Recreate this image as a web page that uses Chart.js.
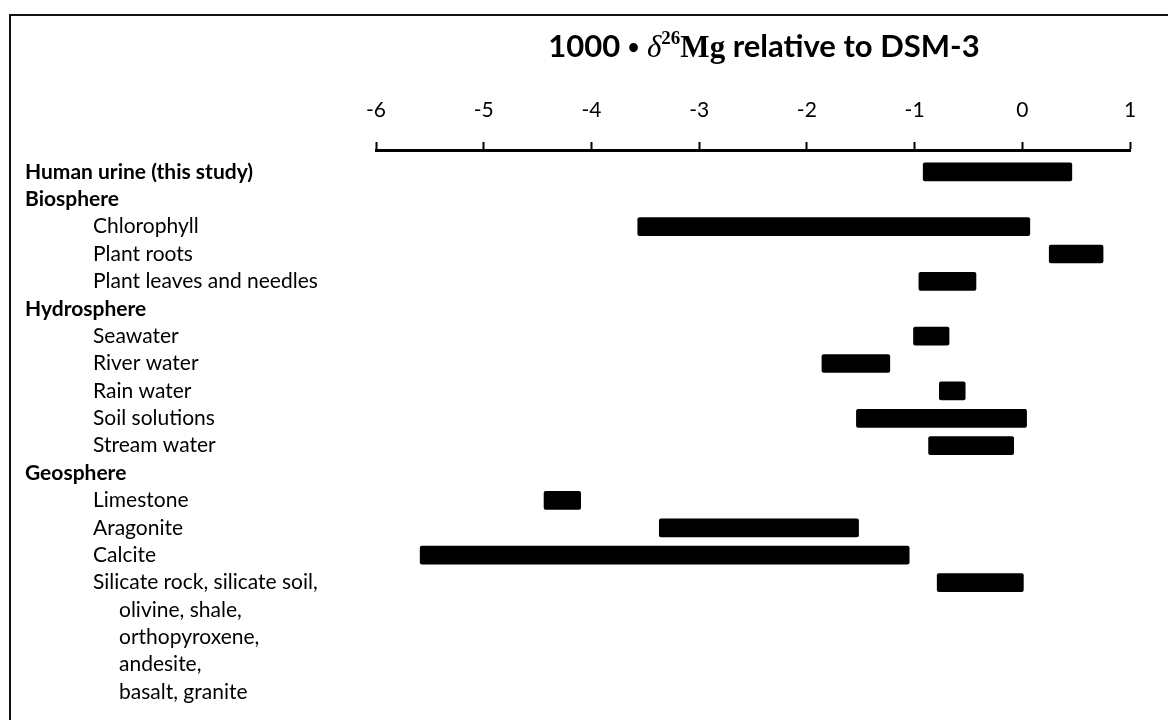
<!DOCTYPE html>
<html>
<head>
<meta charset="utf-8">
<script src="https://cdn.jsdelivr.net/npm/chart.js@4.4.1/dist/chart.umd.min.js"></script>
<style>
body{margin:0;background:#fff;}
#wrap{position:relative;width:1168px;height:720px;overflow:hidden;}
#frame{position:absolute;left:9px;top:14px;width:1200px;height:720px;border-left:2px solid #111;border-top:2px solid #111;}
#myChart{position:absolute;left:0;top:0;}
</style>
</head>
<body>
<div id="wrap"><div id="frame"></div><canvas id="myChart" width="1168" height="720"></canvas></div>
<script>
// rows of the figure (0 = group header, 1 = item, 2 = continued line)
var rowLabels = [
	'Human urine (this study)',
	'Biosphere',
	'Chlorophyll',
	'Plant roots',
	'Plant leaves and needles',
	'Hydrosphere',
	'Seawater',
	'River water',
	'Rain water',
	'Soil solutions',
	'Stream water',
	'Geosphere',
	'Limestone',
	'Aragonite',
	'Calcite',
	'Silicate rock, silicate soil,',
	'olivine, shale,',
	'orthopyroxene,',
	'andesite,',
	'basalt, granite'
];
var rowLevel = [0,0,1,1,1,0,1,1,1,1,1,0,1,1,1,1,2,2,2,2];

// range of each row (null = no bar)
var lowValues  = [-0.92, null, -3.57, 0.25, -0.96, null, -1.01, -1.86, -0.77, -1.54, -0.87, null, -4.44, -3.37, -5.59, -0.79, null, null, null, null];
var highValues = [ 0.46, null,  0.07, 0.75, -0.43, null, -0.68, -1.23, -0.53,  0.04, -0.08, null, -4.10, -1.52, -1.05,  0.01, null, null, null, null];

var xTicks = [-6, -5, -4, -3, -2, -1, 0, 1];

var barData = [];
for (var i = 0; i < rowLabels.length; i++) {
	if (lowValues[i] != null) {
		barData.push({x: [lowValues[i], highValues[i]], y: i});
	}
}

var indentX = [25, 93, 119];

// 왼쪽 행 이름
var rowLabelPlugin = {
	id: 'rowLabels',
	afterDraw: function(chart) {
		var ctx = chart.ctx;
		var yScale = chart.scales.y;
		ctx.save();
		ctx.fillStyle = '#000';
		ctx.textBaseline = 'middle';
		ctx.textAlign = 'left';
		for (var i = 0; i < rowLabels.length; i++) {
			var lv = rowLevel[i];
			ctx.font = (lv == 0 ? 'bold ' : '') + '21px Lato';
			ctx.fillText(rowLabels[i], indentX[lv], yScale.getPixelForValue(i));
		}
		ctx.restore();
	}
};

// 위쪽 축 제목 (글꼴이 섞여 있음)
var titlePlugin = {
	id: 'axisTitle',
	afterDraw: function(chart) {
		var ctx = chart.ctx;
		var parts = [
			{t: '1000 ', f: 'bold 31px Lato', dy: 0},
			{t: '\u2022', f: 'bold 20px Lato', dy: -3},
			{t: ' ', f: 'bold 31px Lato', dy: 0},
			{t: '\u03B4', f: 'italic 31px "Liberation Serif"', dy: 0},
			{t: '26', f: 'bold 19px "Liberation Serif"', dy: -13},
			{t: 'Mg', f: 'bold 31px "Liberation Serif"', dy: 0},
			{t: ' relative to DSM-3', f: 'bold 31px Lato', dy: 0}
		];
		ctx.save();
		ctx.fillStyle = '#000';
		ctx.textBaseline = 'alphabetic';
		ctx.textAlign = 'left';
		var total = 0;
		parts.forEach(function(p){ ctx.font = p.f; p.w = ctx.measureText(p.t).width; total += p.w; });
		var x = 764 - total / 2;
		parts.forEach(function(p){
			ctx.font = p.f;
			ctx.fillText(p.t, x, 57 + p.dy);
			x += p.w;
		});
		ctx.restore();
	}
};

var ctx = document.getElementById('myChart').getContext('2d');
var myChart = new Chart(ctx, {
	type: 'bar',
	data: {
		datasets: [{
			data: barData,
			backgroundColor: '#000',
			borderRadius: 2,
			borderSkipped: false,
			barThickness: 18
		}]
	},
	options: {
		indexAxis: 'y',
		responsive: false,
		animation: false,
		layout: {padding: {left: 376, right: 38, top: 0, bottom: 0}},
		plugins: {legend: {display: false}, tooltip: {enabled: false}},
		scales: {
			x: {
				type: 'linear',
				position: 'top',
				min: -6,
				max: 1,
				afterBuildTicks: function(s) { s.ticks = xTicks.map(function(v){ return {value: v}; }); },
				afterFit: function(s) { s.height = 150; },
				ticks: {color: '#000', font: {family: 'Lato', size: 21}, padding: 19},
				grid: {drawOnChartArea: false, drawTicks: true, tickLength: 8, tickWidth: 2, color: '#000'},
				border: {display: true, color: '#000', width: 3}
			},
			y: {
				type: 'linear',
				reverse: true,
				offset: false,
				min: -0.8,
				max: 20.02,
				display: false
			}
		}
	},
	plugins: [rowLabelPlugin, titlePlugin]
});
</script>
</body>
</html>
